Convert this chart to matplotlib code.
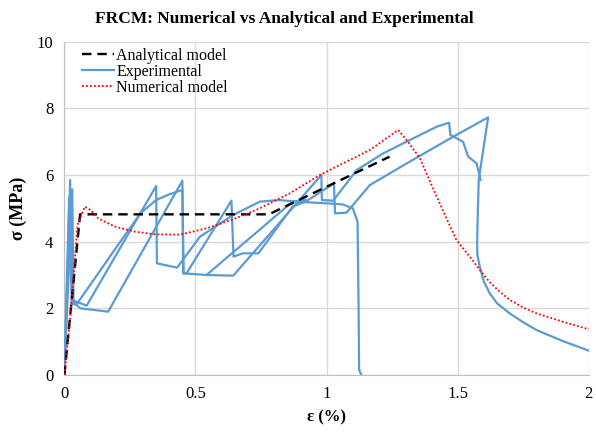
import matplotlib
matplotlib.use("Agg")
import matplotlib.pyplot as plt

plt.rcParams['font.family'] = ['Liberation Serif', 'DejaVu Serif']

# Analytical model
ana_x = [0, 0.06, 0.78, 1.24]
ana_y = [0, 4.82, 4.82, 6.55]

# Numerical model
num_x = [0, 0.02, 0.05, 0.078, 0.1, 0.129, 0.193, 0.269, 0.345, 0.44, 0.542, 0.644,
         0.745, 0.86, 0.974, 1.165, 1.273, 1.31, 1.356, 1.40, 1.457, 1.495, 1.546,
         1.584, 1.62, 1.66, 1.699, 1.75, 1.80, 1.9, 2.0]
num_y = [0, 1.5, 4.5, 5.05, 4.95, 4.7, 4.45, 4.3, 4.22, 4.21, 4.4, 4.67,
         5.0, 5.45, 6.0, 6.75, 7.35, 7.0, 6.5, 5.7, 4.7, 4.05, 3.55,
         3.15, 2.8, 2.5, 2.25, 2.02, 1.85, 1.6, 1.37]

# Experimental specimens
exp1_x = [0, 0.022, 0.03, 0.085, 0.35, 0.353, 0.43, 0.517, 0.644, 0.745, 0.82, 0.885,
          1.0, 1.06, 1.1, 1.118, 1.122, 1.124, 1.133]
exp1_y = [0, 5.85, 2.25, 2.08, 5.67, 3.35, 3.22, 4.15, 4.8, 5.2, 5.25, 5.2,
          5.15, 5.12, 5.0, 4.6, 2.0, 0.15, 0.0]

exp2_x = [0, 0.03, 0.035, 0.06, 0.167, 0.45, 0.453, 0.466, 0.637, 0.645, 0.68, 0.74,
          0.87, 0.92, 1.028, 1.032, 1.076, 1.165, 1.317, 1.483, 1.616, 1.58, 1.577,
          1.574, 1.575, 1.584, 1.60, 1.622, 1.65, 1.698, 1.75, 1.80, 1.9, 2.0]
exp2_y = [0, 5.57, 2.2, 2.0, 1.9, 5.83, 3.05, 3.05, 5.23, 3.55, 3.65, 3.65,
          5.05, 5.2, 5.75, 4.85, 4.87, 5.7, 6.4, 7.15, 7.73, 5.85, 5.0,
          4.0, 3.6, 3.25, 2.8, 2.45, 2.15, 1.85, 1.58, 1.35, 1.02, 0.73]

exp3_x = [0, 0.018, 0.028, 0.045, 0.2, 0.29, 0.35, 0.4, 0.45, 0.455, 0.542, 0.644, 0.98,
          0.982, 1.025, 1.115, 1.216, 1.305, 1.42, 1.467, 1.472, 1.52, 1.54, 1.572, 1.587]
exp3_y = [0, 5.3, 2.15, 2.1, 3.85, 4.85, 5.25, 5.42, 5.55, 3.05, 3.0, 2.98, 6.0,
          5.25, 5.23, 6.15, 6.65, 7.0, 7.45, 7.57, 7.2, 7.0, 6.55, 6.35, 5.85]

exp4_x = [0.542, 0.87, 0.92]
exp4_y = [3.0, 5.2, 5.25]

blue = '#5b9bd5'

fig = plt.figure(figsize=(5.96, 4.32), dpi=100)
ax = fig.add_axes([0.108, 0.132, 0.88, 0.7715])

ax.plot(ana_x, ana_y, color='black', ls=(0, (4, 2.5)), lw=1.7, label='Analytical model', zorder=4)
ax.plot(exp1_x, exp1_y, color=blue, lw=1.6, label='Experimental', zorder=3)
for xs, ys in [(exp2_x, exp2_y), (exp3_x, exp3_y), (exp4_x, exp4_y)]:
    ax.plot(xs, ys, color=blue, lw=1.6, zorder=3)
ax.plot(num_x, num_y, color='red', ls=(0, (1, 1.2)), lw=1.3, label='Numerical model', zorder=5)

ax.set_xlim(0, 2)
ax.set_ylim(0, 10)
ax.set_xticks([0, 0.5, 1, 1.5, 2])
ax.set_xticklabels(['0', '0.5', '1', '1.5', '2'])
ax.set_yticks([0, 2, 4, 6, 8, 10])
ax.grid(True, color='#d9d9d9', lw=1)
ax.set_axisbelow(True)
ax.tick_params(length=0, labelsize=12, pad=8)
for s in ['top', 'right']:
    ax.spines[s].set_visible(False)
for s in ['left', 'bottom']:
    ax.spines[s].set_color('#bfbfbf')

ax.set_xlabel('ε (%)', fontsize=12, fontweight='bold', labelpad=5)
ax.set_ylabel('σ (MPa)', fontsize=13, fontweight='bold', labelpad=7)
fig.text(0.477, 0.955, 'FRCM: Numerical vs Analytical and Experimental',
         ha='center', va='center', fontsize=12.5, fontweight='bold')

ax.legend(loc='upper left', frameon=False, fontsize=11.5, handlelength=2.0,
          handletextpad=0.15, labelspacing=0.0, borderaxespad=0.3,
          bbox_to_anchor=(0.012, 1.015))

fig.savefig('out.png', dpi=100)
